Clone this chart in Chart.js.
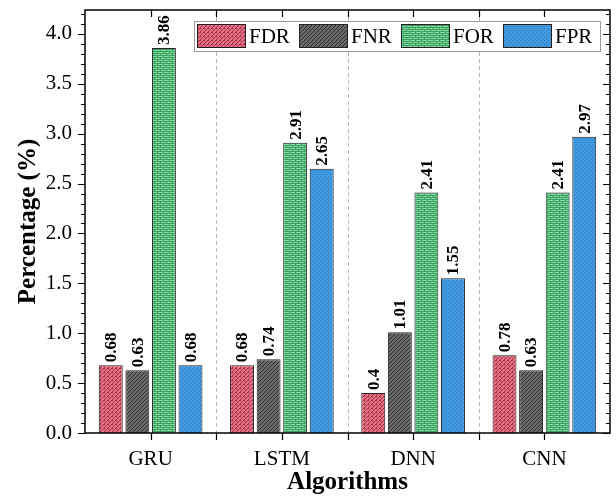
<!DOCTYPE html>
<html>
<head>
<meta charset="utf-8">
<script src="https://cdn.jsdelivr.net/npm/chart.js@4.4.1/dist/chart.umd.min.js"></script>
<style>
  html, body { margin: 0; padding: 0; background: #fff; }
  #wrap { width: 616px; height: 497px; }
</style>
</head>
<body>
<div id="wrap"><canvas id="chart" width="616" height="497"></canvas></div>
<script>
// data
const algorithms = ['GRU', 'LSTM', 'DNN', 'CNN'];
const metrics = ['FDR', 'FNR', 'FOR', 'FPR'];
const fdr = [0.68, 0.68, 0.4, 0.78];
const fnr = [0.63, 0.74, 1.01, 0.63];
const forVals = [3.86, 2.91, 2.41, 2.41];
const fpr = [0.68, 2.65, 1.55, 2.97];
const yTicks = [0, 0.5, 1.0, 1.5, 2.0, 2.5, 3.0, 3.5, 4.0];

const FONT = '"Liberation Serif", "Times New Roman", serif';

// small hatch patterns, roughly like the origin-style fills
function makePattern(kind) {
    const c = document.createElement('canvas');
    c.width = 4; c.height = 4;
    const g = c.getContext('2d');
    if (kind === 'FDR') {
        g.fillStyle = '#ea6f84'; g.fillRect(0, 0, 4, 4);
        g.fillStyle = 'rgba(120,30,45,0.75)';
        g.fillRect(0, 3, 1, 1); g.fillRect(1, 2, 1, 1); g.fillRect(2, 1, 1, 1); g.fillRect(3, 0, 1, 1);
        g.fillRect(0, 0, 1, 1);
    } else if (kind === 'FNR') {
        g.fillStyle = '#6a6a6a'; g.fillRect(0, 0, 4, 4);
        g.fillStyle = '#2e2e2e';
        g.fillRect(0, 0, 1, 1); g.fillRect(2, 2, 1, 1); g.fillRect(1, 3, 1, 1); g.fillRect(3, 1, 1, 1);
    } else if (kind === 'FOR') {
        c.width = 6; c.height = 4;
        g.fillStyle = '#3f9e63'; g.fillRect(0, 0, 6, 4);
        g.fillStyle = '#7fdc9f';
        g.fillRect(0, 0, 6, 1); g.fillRect(0, 2, 6, 1);
        g.fillStyle = '#3f9e63';
        g.fillRect(1, 0, 1, 1); g.fillRect(4, 2, 1, 1);
    } else {
        g.fillStyle = '#4199e0'; g.fillRect(0, 0, 4, 4);
        g.fillStyle = '#2a6fae';
        g.fillRect(0, 0, 1, 1); g.fillRect(2, 2, 1, 1);
    }
    return g.createPattern(c, 'repeat');
}

const seriesValues = [fdr, fnr, forVals, fpr];

const datasets = metrics.map(function(m, i) {
    return {
        label: m,
        data: seriesValues[i],
        backgroundColor: makePattern(m),
        borderColor: '#222',
        borderWidth: 1,
        barPercentage: 0.9,
        categoryPercentage: 0.81
    };
});

// frame, mirror ticks, minor ticks, value labels and legend box
const decorPlugin = {
    id: 'decor',
    beforeDatasetsDraw: function(chart) {
        const ctx = chart.ctx;
        const a = chart.chartArea;
        const x = chart.scales.x;
        // dashed separators between categories
        ctx.save();
        ctx.strokeStyle = '#b8b8b8';
        ctx.lineWidth = 1;
        ctx.setLineDash([4, 3]);
        for (let i = 1; i < algorithms.length; i++) {
            const px = Math.round((x.getPixelForValue(i - 1) + x.getPixelForValue(i)) / 2) + 0.5;
            ctx.beginPath();
            ctx.moveTo(px, a.top);
            ctx.lineTo(px, a.bottom);
            ctx.stroke();
        }
        ctx.restore();
    },
    afterDatasetsDraw: function(chart) {
        const ctx = chart.ctx;
        const a = chart.chartArea;
        const x = chart.scales.x;
        const y = chart.scales.y;

        ctx.save();
        ctx.strokeStyle = '#000';
        ctx.lineWidth = 1.5;
        ctx.strokeRect(a.left, a.top, a.right - a.left, a.bottom - a.top);

        ctx.lineWidth = 1.2;
        ctx.beginPath();
        // y ticks: outward on the left, inward on the right
        for (let v = 0; v <= 4.2001; v += 0.1) {
            const py = Math.round(y.getPixelForValue(v)) + 0.5;
            const major = Math.abs(v * 2 - Math.round(v * 2)) < 1e-6;
            const len = major ? 7 : 4;
            ctx.moveTo(a.left - len, py); ctx.lineTo(a.left, py);
            ctx.moveTo(a.right, py); ctx.lineTo(a.right - len, py);
        }
        // x ticks at categories and between them
        for (let i = 0; i < algorithms.length; i++) {
            const cx = Math.round(x.getPixelForValue(i)) + 0.5;
            ctx.moveTo(cx, a.bottom); ctx.lineTo(cx, a.bottom + 7);
            ctx.moveTo(cx, a.top); ctx.lineTo(cx, a.top + 7);
            if (i > 0) {
                const bx = Math.round((x.getPixelForValue(i - 1) + x.getPixelForValue(i)) / 2) + 0.5;
                ctx.moveTo(bx, a.bottom); ctx.lineTo(bx, a.bottom + 7);
                ctx.moveTo(bx, a.top); ctx.lineTo(bx, a.top + 7);
            }
        }
        ctx.stroke();

        // rotated value labels above bars
        ctx.fillStyle = '#000';
        ctx.font = 'bold 17px ' + FONT;
        ctx.textAlign = 'left';
        ctx.textBaseline = 'middle';
        chart.data.datasets.forEach(function(ds, di) {
            const meta = chart.getDatasetMeta(di);
            meta.data.forEach(function(bar, j) {
                ctx.save();
                ctx.translate(bar.x, bar.y - 3);
                ctx.rotate(-Math.PI / 2);
                ctx.fillText(String(ds.data[j]), 0, 1);
                ctx.restore();
            });
        });

        // legend box
        const lx = 194, ly = 21, lw = 406, lh = 30;
        ctx.fillStyle = '#fff';
        ctx.fillRect(lx, ly, lw, lh);
        ctx.strokeStyle = '#999';
        ctx.lineWidth = 1;
        ctx.strokeRect(lx + 0.5, ly + 0.5, lw, lh);
        ctx.font = '21px ' + FONT;
        ctx.textBaseline = 'middle';
        chart.data.datasets.forEach(function(ds, di) {
            const sx = 197 + di * 102;
            ctx.fillStyle = ds.backgroundColor;
            ctx.fillRect(sx, 24, 48, 24);
            ctx.strokeStyle = '#222';
            ctx.strokeRect(sx + 0.5, 24.5, 48, 23);
            ctx.fillStyle = '#000';
            ctx.fillText(ds.label, sx + 52, 37);
        });
        ctx.restore();
    }
};

new Chart(document.getElementById('chart'), {
    type: 'bar',
    data: { labels: algorithms, datasets: datasets },
    plugins: [decorPlugin],
    options: {
        responsive: false,
        animation: false,
        layout: { padding: { top: 10, right: 6, left: 0, bottom: 0 } },
        plugins: {
            legend: { display: false },
            tooltip: { enabled: false }
        },
        scales: {
            x: {
                afterFit: function(s) { s.height = 64; s.paddingLeft = 0; s.paddingRight = 0; },
                grid: { display: false, drawTicks: false },
                border: { display: false },
                ticks: { color: '#000', padding: 14, font: { family: FONT, size: 21 } },
                title: {
                    display: true, text: 'Algorithms', color: '#000',
                    font: { family: FONT, size: 25, weight: 'bold' },
                    padding: { top: 4, bottom: -1 }
                }
            },
            y: {
                min: 0,
                max: 4.24,
                afterFit: function(s) { s.width = 85; s.paddingTop = 0; s.paddingBottom = 0; },
                afterBuildTicks: function(s) {
                    s.ticks = yTicks.map(function(v) { return { value: v }; });
                },
                grid: { display: false, drawTicks: false },
                border: { display: false },
                ticks: {
                    color: '#000', padding: 13,
                    font: { family: FONT, size: 21 },
                    callback: function(v) { return Number(v).toFixed(1); }
                },
                title: {
                    display: true, text: 'Percentage (%)', color: '#000',
                    font: { family: FONT, size: 25, weight: 'bold' },
                    padding: { top: 14, bottom: 0 }
                }
            }
        }
    }
});
</script>
</body>
</html>
